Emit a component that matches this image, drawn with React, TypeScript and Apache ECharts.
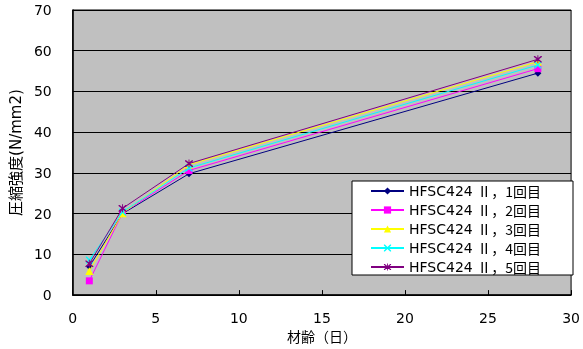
import React, { useEffect, useRef } from "react";
import * as echarts from "echarts";

const days = [1, 3, 7, 28];
const seriesNames = [
  "HFSC424 Ⅱ，1回目",
  "HFSC424 Ⅱ，2回目",
  "HFSC424 Ⅱ，3回目",
  "HFSC424 Ⅱ，4回目",
  "HFSC424 Ⅱ，5回目",
];
const run1 = [7.0, 20.0, 29.8, 54.5];
const run2 = [3.5, 20.2, 30.6, 55.6];
const run3 = [5.9, 20.1, 32.0, 57.3];
const run4 = [8.6, 20.4, 31.2, 56.5];
const run5 = [7.7, 21.3, 32.3, 57.9];
const xTicks = [0, 5, 10, 15, 20, 25, 30];
const yTicks = [0, 10, 20, 30, 40, 50, 60, 70];

const colors = ["#000080", "#FF00FF", "#FFFF00", "#00FFFF", "#800080"];
const crossPath =
  "path://M0,0 L1.4,0 L5,3.6 L8.6,0 L10,0 L10,1.4 L6.4,5 L10,8.6 L10,10 L8.6,10 L5,6.4 L1.4,10 L0,10 L0,8.6 L3.6,5 L0,1.4 Z";
const starPath =
  "path://M0,0 L1.4,0 L5,3.6 L8.6,0 L10,0 L10,1.4 L6.4,5 L10,8.6 L10,10 L8.6,10 L5,6.4 L1.4,10 L0,10 L0,8.6 L3.6,5 L0,1.4 Z M4.4,-1 L5.6,-1 L5.6,11 L4.4,11 Z";
const symbols = ["diamond", "rect", "triangle", crossPath, starPath];
const symbolSizes = [7, 7, 8, 7, 8];

const allRuns = [run1, run2, run3, run4, run5];
const FONT = "'DejaVu Sans', 'Noto Sans CJK JP', sans-serif";
const CJK = "'Noto Sans CJK JP', sans-serif";

export default function App() {
  const ref = useRef<HTMLDivElement>(null);
  useEffect(() => {
    if (!ref.current) return;
    const chart = echarts.init(ref.current, undefined, { renderer: "svg" });
    chart.setOption({
      animation: false,
      textStyle: { fontFamily: FONT },
      grid: {
        left: 71,
        right: 10,
        top: 10,
        bottom: 47,
        show: true,
        backgroundColor: "#C0C0C0",
        borderColor: "#000",
        borderWidth: 1,
      },
      graphic: [
        {
          type: "rect",
          shape: { x: 352, y: 181, width: 221, height: 94 },
          style: { fill: "#fff", stroke: "#000", lineWidth: 1 },
          z: 50,
        },
      ],
      legend: {
        orient: "vertical",
        left: 370,
        top: 181.5,
        padding: 0,
        itemGap: 0,
        itemWidth: 33,
        itemHeight: 9,
        z: 60,
        formatter: (name: string) => {
          const k = name.indexOf("Ⅱ");
          return "{a|" + name.slice(0, k) + "}{b|" + name.slice(k) + "}";
        },
        textStyle: {
          fontFamily: FONT,
          fontSize: 14,
          lineHeight: 19,
          color: "#000",
          rich: {
            a: { fontFamily: FONT, fontSize: 14, lineHeight: 19, color: "#000" },
            b: { fontFamily: CJK, fontSize: 14, lineHeight: 19, color: "#000" },
          },
        },
        data: seriesNames,
      },
      xAxis: {
        type: "value",
        min: 0,
        max: 30,
        interval: 5,
        name: "材齢（日）",
        nameLocation: "middle",
        nameGap: 30,
        nameTextStyle: { fontFamily: FONT, fontSize: 14, color: "#000" },
        axisLine: { show: true, onZero: false, lineStyle: { color: "#000", width: 1.5 } },
        axisTick: { show: true, inside: true, length: 5, lineStyle: { color: "#000" } },
        axisLabel: {
          fontFamily: FONT,
          fontSize: 14,
          color: "#000",
          margin: 16,
          formatter: (v: number) => (xTicks.includes(v) ? String(v) : ""),
        },
        splitLine: { show: false },
      },
      yAxis: {
        type: "value",
        min: 0,
        max: 70,
        interval: 10,
        name: "圧縮強度(N/mm2)",
        nameLocation: "middle",
        nameGap: 43,
        nameRotate: 90,
        nameTextStyle: { fontFamily: FONT, fontSize: 15, color: "#000" },
        axisLine: { show: true, lineStyle: { color: "#000", width: 1.5 } },
        axisTick: { show: false },
        axisLabel: {
          fontFamily: FONT,
          fontSize: 14,
          color: "#000",
          margin: 21,
          formatter: (v: number) => (yTicks.includes(v) ? String(v) : ""),
        },
        splitLine: { show: true, lineStyle: { color: "#000", width: 1 } },
      },
      series: allRuns.map((run, i) => ({
        name: seriesNames[i],
        type: "line",
        data: days.map((d, j) => [d, run[j]]),
        symbol: symbols[i],
        symbolSize: symbolSizes[i],
        showAllSymbol: true,
        lineStyle: { color: colors[i], width: 1 },
        itemStyle: { color: colors[i], borderWidth: 0 },
        z: 2 + i,
      })),
    });
    return () => chart.dispose();
  }, []);
  return (
    <div
      ref={ref}
      style={{ position: "fixed", left: 0, top: 0, width: 583, height: 349 }}
    />
  );
}
